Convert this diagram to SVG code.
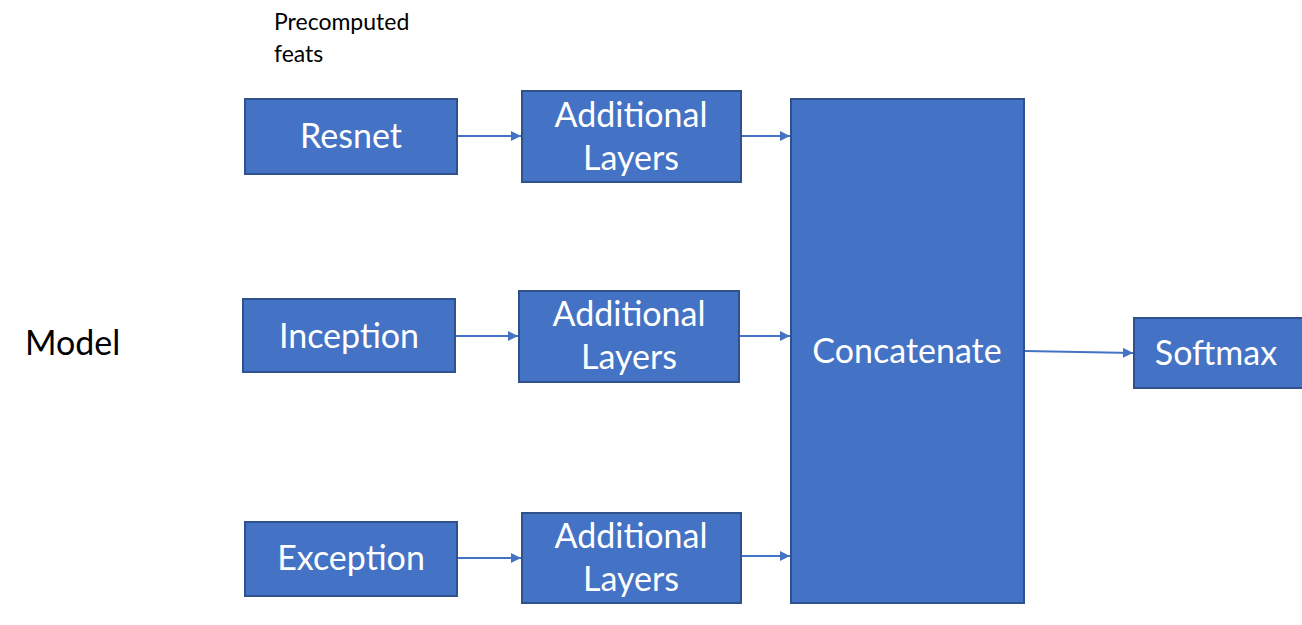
<svg xmlns="http://www.w3.org/2000/svg" width="1302" height="625" viewBox="0 0 1302 625">
<defs>
<style>
.box{fill:#4472C4;stroke:#2F528F;stroke-width:2}
.t{font-family:Lato,"Open Sans","Liberation Sans",sans-serif;font-size:34px;fill:#fff;text-anchor:middle}
.k{font-family:Lato,"Open Sans","Liberation Sans",sans-serif;fill:#000}
.c{stroke:#4472C4;stroke-width:2;fill:none;marker-end:url(#ah)}
</style>
<marker id="ah" viewBox="0 0 10 10" refX="10" refY="5" markerWidth="11" markerHeight="10" orient="auto" markerUnits="userSpaceOnUse">
<path d="M0,0 L10,5 L0,10 z" fill="#4472C4"/>
</marker>
</defs>
<rect width="1302" height="625" fill="#fff"/>
<text class="k" x="274" y="30" font-size="23">Precomputed</text>
<text class="k" x="274" y="62" font-size="23">feats</text>
<text class="k" x="25" y="355" font-size="34">Model</text>
<g id="connectors">
<line class="c" x1="457" y1="136" x2="521" y2="136"/>
<line class="c" x1="741" y1="136" x2="790" y2="136"/>
<line class="c" x1="455" y1="336" x2="518" y2="336"/>
<line class="c" x1="739" y1="336" x2="790" y2="336"/>
<line class="c" x1="457" y1="558" x2="521" y2="558"/>
<line class="c" x1="741" y1="556" x2="790" y2="556"/>
<line class="c" x1="1025" y1="351" x2="1133" y2="353"/>
</g>
<g id="resnet"><rect class="box" x="245" y="99" width="212" height="75"/><text class="t" x="351" y="148">Resnet</text></g>
<g id="add1"><rect class="box" x="522" y="91" width="219" height="91"/><text class="t" x="631" y="127">Additional</text><text class="t" x="631" y="170">Layers</text></g>
<g id="inception"><rect class="box" x="243" y="299" width="212" height="73"/><text class="t" x="349" y="348">Inception</text></g>
<g id="add2"><rect class="box" x="519" y="291" width="220" height="91"/><text class="t" x="629" y="326">Additional</text><text class="t" x="629" y="369">Layers</text></g>
<g id="exception"><rect class="box" x="245" y="522" width="212" height="74"/><text class="t" x="351" y="570">Exception</text></g>
<g id="add3"><rect class="box" x="522" y="513" width="219" height="90"/><text class="t" x="631" y="548">Additional</text><text class="t" x="631" y="591">Layers</text></g>
<g id="concat"><rect class="box" x="791" y="99" width="233" height="504"/><text class="t" x="907" y="363">Concatenate</text></g>
<g id="softmax"><rect class="box" x="1134" y="318" width="170" height="70"/><text class="t" x="1216" y="365">Softmax</text></g>
</svg>
